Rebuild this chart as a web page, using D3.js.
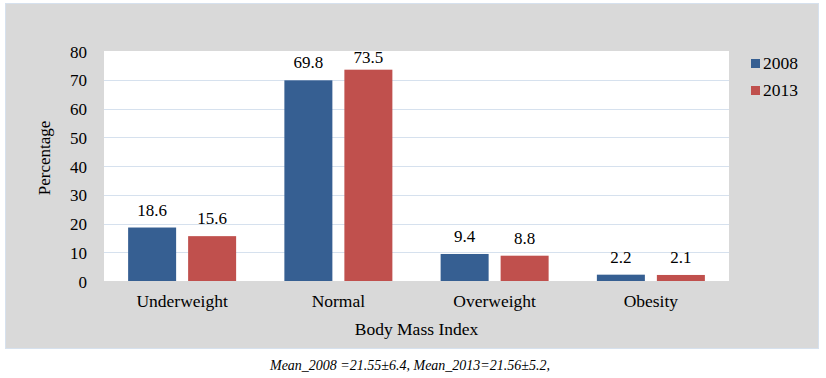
<!DOCTYPE html>
<html>
<head>
<meta charset="utf-8">
<script src="https://cdn.jsdelivr.net/npm/d3@7"></script>
<style>
    body { margin: 0; background: #ffffff; }
</style>
</head>
<body>
<div id="bar-chart"></div>
<script>
const categories = ['Underweight', 'Normal', 'Overweight', 'Obesity'];
const years = ['2008', '2013'];
const values2008 = [18.6, 69.8, 9.4, 2.2];
const values2013 = [15.6, 73.5, 8.8, 2.1];
const yTicks = [0, 10, 20, 30, 40, 50, 60, 70, 80];
const caption = 'Mean_2008 =21.55±6.4, Mean_2013=21.56±5.2,';

const color = ['#365F92', '#C0504D'];
const serif = "'Liberation Serif', 'Times New Roman', serif";

let margin = {top: 51, right: 97, bottom: 97, left: 104};
let width = 826, height = 378;

function initBarChart() {
    let data = categories.map((c, i) => ({cat: c, vals: [values2008[i], values2013[i]]}));

    let svg = d3.select('#bar-chart')
        .append('svg')
        .attr('width', width)
        .attr('height', height);

    // gray chart area
    svg.append('rect')
        .attr('x', 5.5).attr('y', 3.5)
        .attr('width', 813).attr('height', 345)
        .attr('fill', '#d9d9d9')
        .attr('stroke', '#d6e1ee');

    let plotRight = width - margin.right;

    let yScale = d3.scaleLinear()
        .domain([0, 80])
        .range([height - margin.bottom, margin.top]);

    let xScale = d3.scaleBand()
        .domain(categories)
        .range([margin.left, plotRight]);

    let groupW = 108;
    let x1 = d3.scaleBand()
        .domain(years)
        .range([0, groupW])
        .paddingInner(0.2);

    // plot area
    svg.append('rect')
        .attr('x', margin.left).attr('y', yScale(80))
        .attr('width', plotRight - margin.left).attr('height', yScale(0) - yScale(80))
        .attr('fill', '#ffffff');

    // gridlines
    svg.append('g')
        .selectAll('line')
        .data(yTicks.filter(d => d > 0 && d < 80))
        .enter()
        .append('line')
        .attr('x1', margin.left).attr('x2', plotRight)
        .attr('y1', d => Math.round(yScale(d)) + 0.5)
        .attr('y2', d => Math.round(yScale(d)) + 0.5)
        .attr('stroke', '#d6e1ee')
        .attr('stroke-width', 1);

    // y axis
    let yAxis = svg.append('g')
        .attr('transform', `translate(${margin.left},0)`)
        .call(d3.axisLeft(yScale).tickValues(yTicks).tickSize(0).tickPadding(17));
    yAxis.select('.domain').remove();
    yAxis.selectAll('text')
        .attr('dy', '0.36em')
        .style('font-size', '17px');

    // bars
    let groups = svg.append('g')
        .selectAll('.grp')
        .data(data)
        .enter()
        .append('g')
        .attr('class', 'grp')
        .attr('transform', d => `translate(${xScale(d.cat) + (xScale.bandwidth() - groupW) / 2},0)`);

    groups.selectAll('rect')
        .data(d => d.vals.map((v, i) => ({year: years[i], v: v, i: i})))
        .enter()
        .append('rect')
        .attr('x', d => x1(d.year))
        .attr('y', d => yScale(d.v))
        .attr('width', x1.bandwidth())
        .attr('height', d => yScale(0) - yScale(d.v))
        .attr('fill', d => color[d.i]);

    // value labels
    groups.selectAll('.lbl')
        .data(d => d.vals.map((v, i) => ({year: years[i], v: v, i: i})))
        .enter()
        .append('text')
        .attr('class', 'lbl')
        .attr('x', d => x1(d.year) + x1.bandwidth() / 2)
        .attr('y', d => Math.max(yScale(d.v) - 12, yScale(80) + 12))
        .attr('text-anchor', 'middle')
        .style('font-size', '17px')
        .text(d => d.v.toFixed(1));

    // category labels
    svg.append('g')
        .selectAll('text')
        .data(categories)
        .enter()
        .append('text')
        .attr('x', d => xScale(d) + xScale.bandwidth() / 2)
        .attr('y', 307)
        .attr('text-anchor', 'middle')
        .style('font-size', '17.5px')
        .text(d => d);

    // axis titles
    svg.append('text')
        .attr('x', (margin.left + plotRight) / 2)
        .attr('y', 335)
        .attr('text-anchor', 'middle')
        .style('font-size', '17.5px')
        .text('Body Mass Index');

    svg.append('text')
        .attr('transform', 'translate(50,158) rotate(-90)')
        .attr('text-anchor', 'middle')
        .style('font-size', '17px')
        .text('Percentage');

    // legend
    let legend = svg.append('g')
        .selectAll('g')
        .data(years)
        .enter()
        .append('g')
        .attr('transform', (d, i) => `translate(751,${59 + i * 27})`);
    legend.append('rect')
        .attr('width', 9).attr('height', 9)
        .attr('fill', (d, i) => color[i]);
    legend.append('text')
        .attr('x', 12).attr('y', 9.5)
        .style('font-size', '17.5px')
        .text(d => d);

    // caption
    svg.append('text')
        .attr('x', 410)
        .attr('y', 370)
        .attr('text-anchor', 'middle')
        .style('font-size', '14px')
        .style('font-style', 'italic')
        .text(caption);

    svg.selectAll('text')
        .style('font-family', serif)
        .attr('fill', '#000');
}

initBarChart();
</script>
</body>
</html>
